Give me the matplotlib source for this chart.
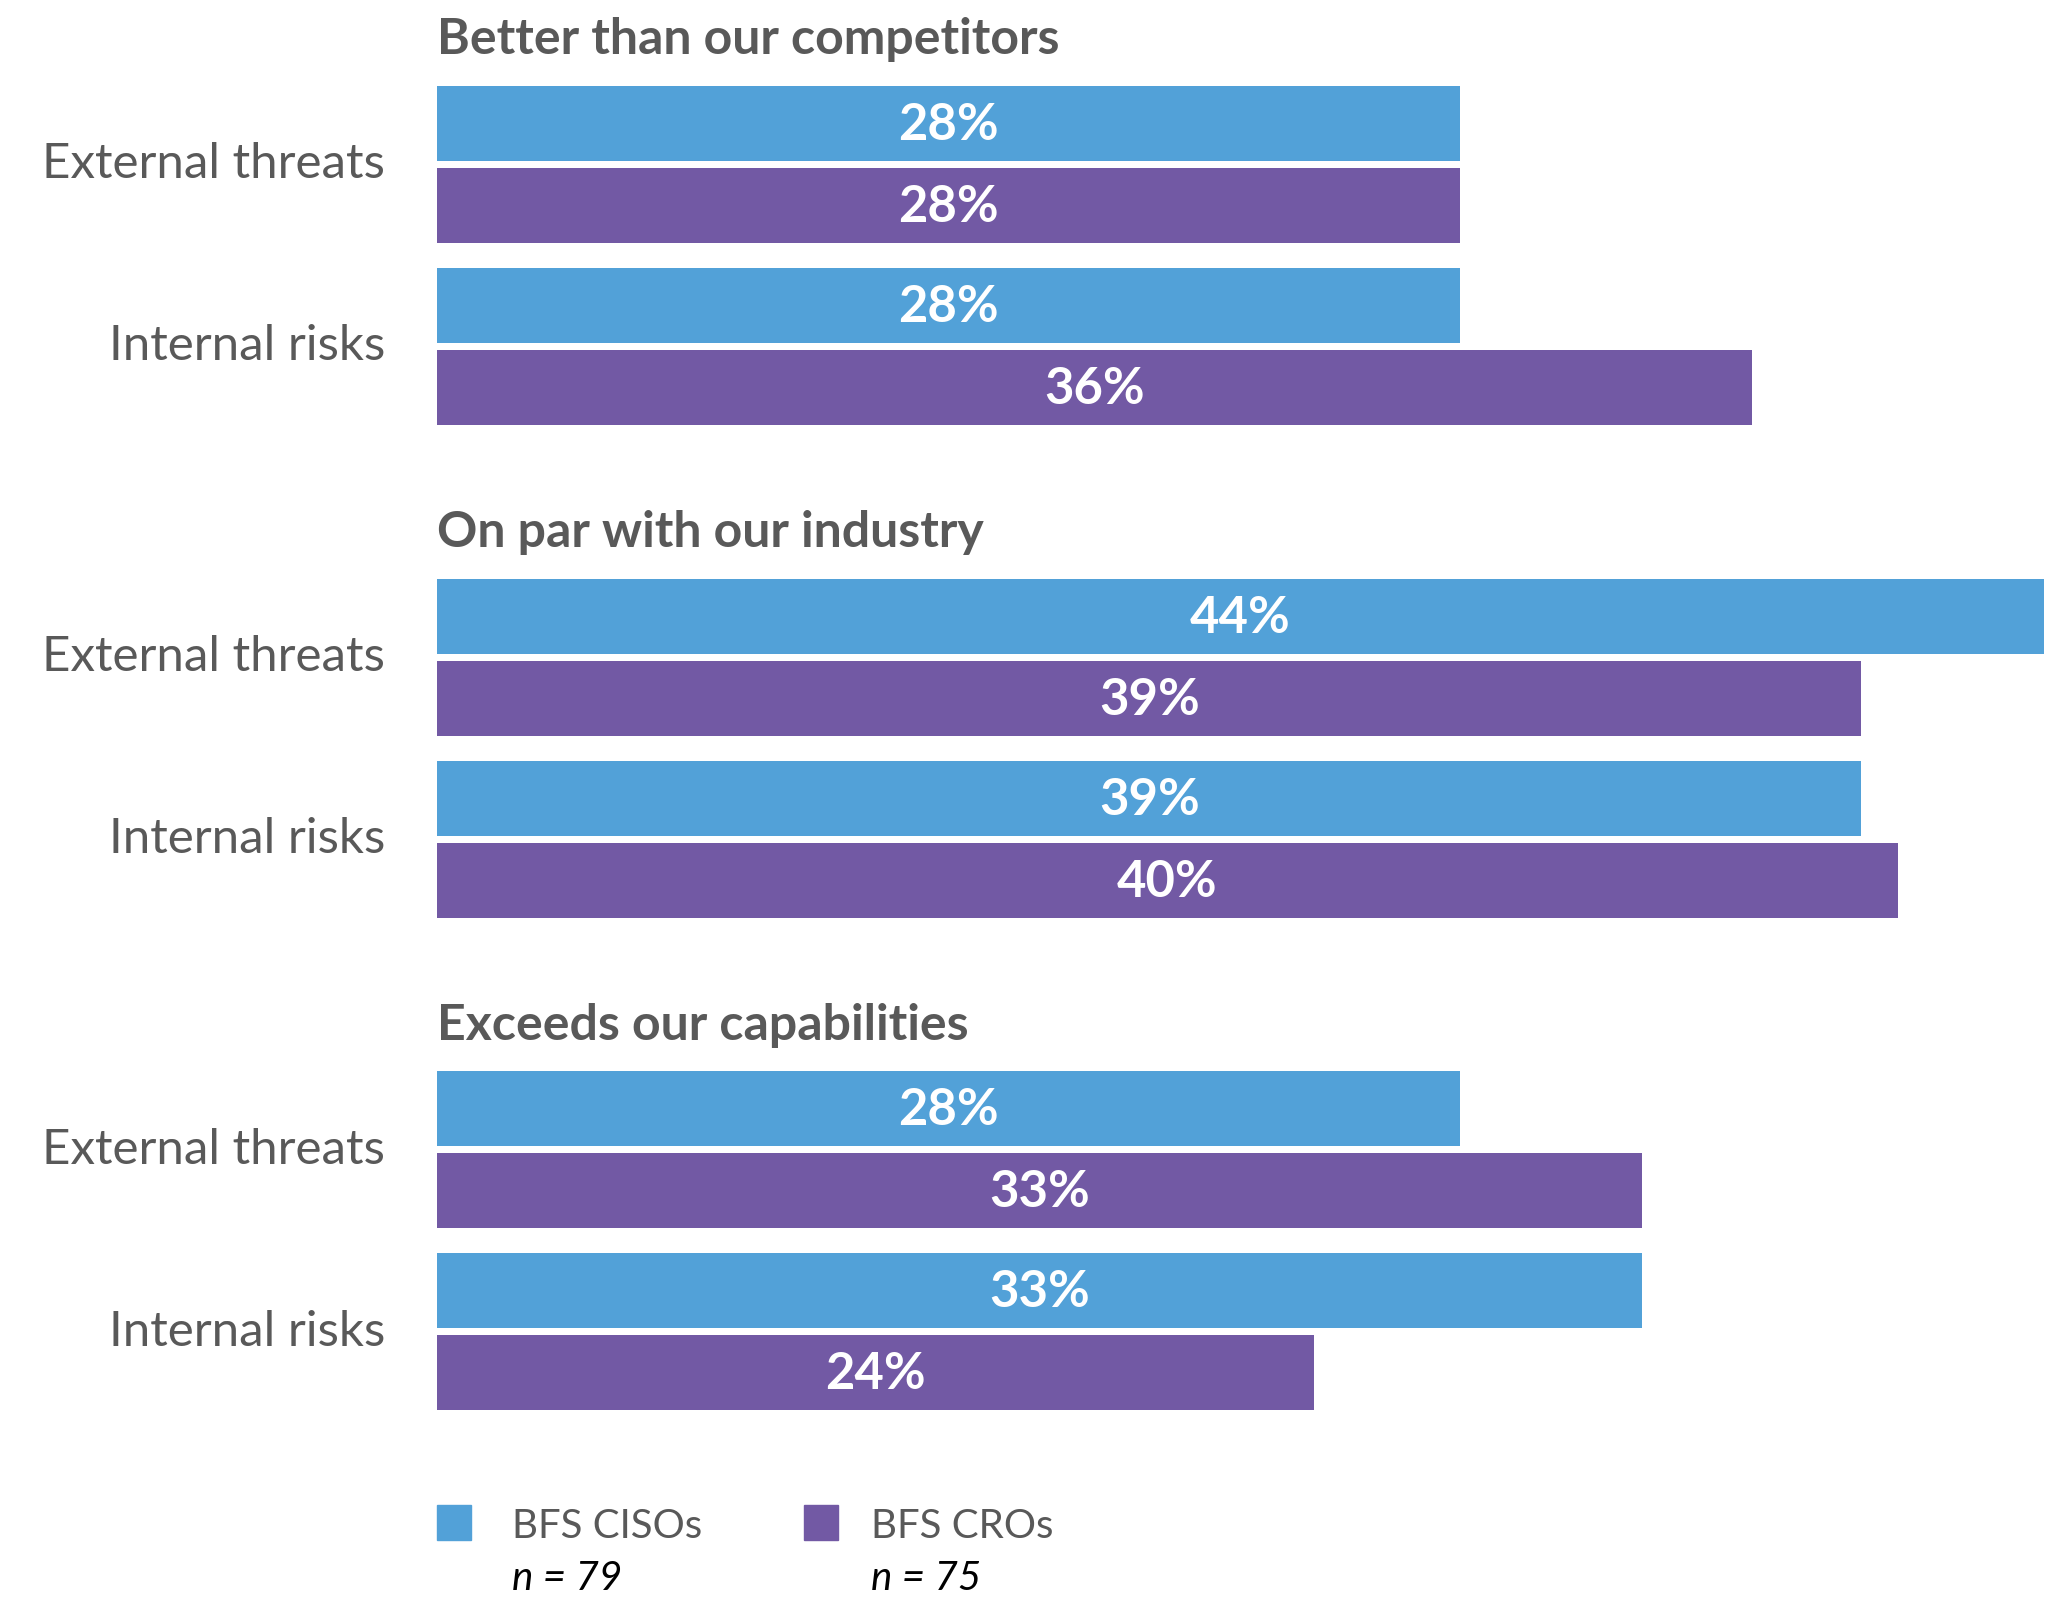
import matplotlib.pyplot as plt
from matplotlib.patches import Rectangle
from matplotlib import transforms

plt.rcParams['font.family'] = ['Lato', 'DejaVu Sans']

# data
groups = ['Better than our competitors', 'On par with our industry', 'Exceeds our capabilities']
categories = ['External threats', 'Internal risks']
series = ['BFS CISOs', 'BFS CROs']
sample_sizes = ['n = 79', 'n = 75']
cisos = [[28, 28], [44, 39], [28, 33]]
cros = [[28, 36], [39, 40], [33, 24]]

colors = ['#52a1d8', '#7259a4']
grey = '#595959'

W, H = 2069, 1599
fig = plt.figure(figsize=(W / 100, H / 100), dpi=100)
# axes: x=0 at 437px, x=44 at 2044px; y in pixels from top
x0, x44 = 437, 2044
ax = fig.add_axes([x0 / W, 0, (x44 - x0) / W, 1])
ax.set_xlim(0, 44)
ax.set_ylim(H, 0)
ax.axis('off')

bar_h = 75
pair_step = 82
cat_step = 182
group_step = 492.6
first_top = 86

label_tr = transforms.blended_transform_factory(fig.transFigure, ax.transData)

for g, name in enumerate(groups):
    top = first_top + g * group_step
    ax.text(0, top - 46, name, ha='left', va='center', fontsize=36,
            fontweight='bold', color=grey)
    for c, cat in enumerate(categories):
        y1 = top + c * cat_step + bar_h / 2
        y2 = y1 + pair_step
        for y, v, col in [(y1, cisos[g][c], colors[0]), (y2, cros[g][c], colors[1])]:
            ax.barh(y, v, height=bar_h, color=col, left=0)
            ax.text(v / 2, y + 2, f'{v}%', ha='center', va='center', fontsize=36.5,
                    fontweight='bold', color='white')
        mid = (y1 + y2) / 2
        ax.text(385 / W, mid + 14, cat, transform=label_tr, ha='right', va='baseline',
                fontsize=35.5, color=grey)

# legend
for i, (s, n) in enumerate(zip(series, sample_sizes)):
    sx = [437, 804][i]
    tx = [512, 871][i]
    fig.add_artist(Rectangle((sx / W, 1 - 1540 / H), 34 / W, 35 / H,
                             transform=fig.transFigure, color=colors[i]))
    fig.text(tx / W, 1 - 1527 / H, s, ha='left', va='center', fontsize=29, color=grey)
    fig.text(tx / W, 1 - 1579 / H, n, ha='left', va='center', fontsize=29,
             style='italic', color='black')

fig.savefig('out.png', dpi=100, facecolor='white')
